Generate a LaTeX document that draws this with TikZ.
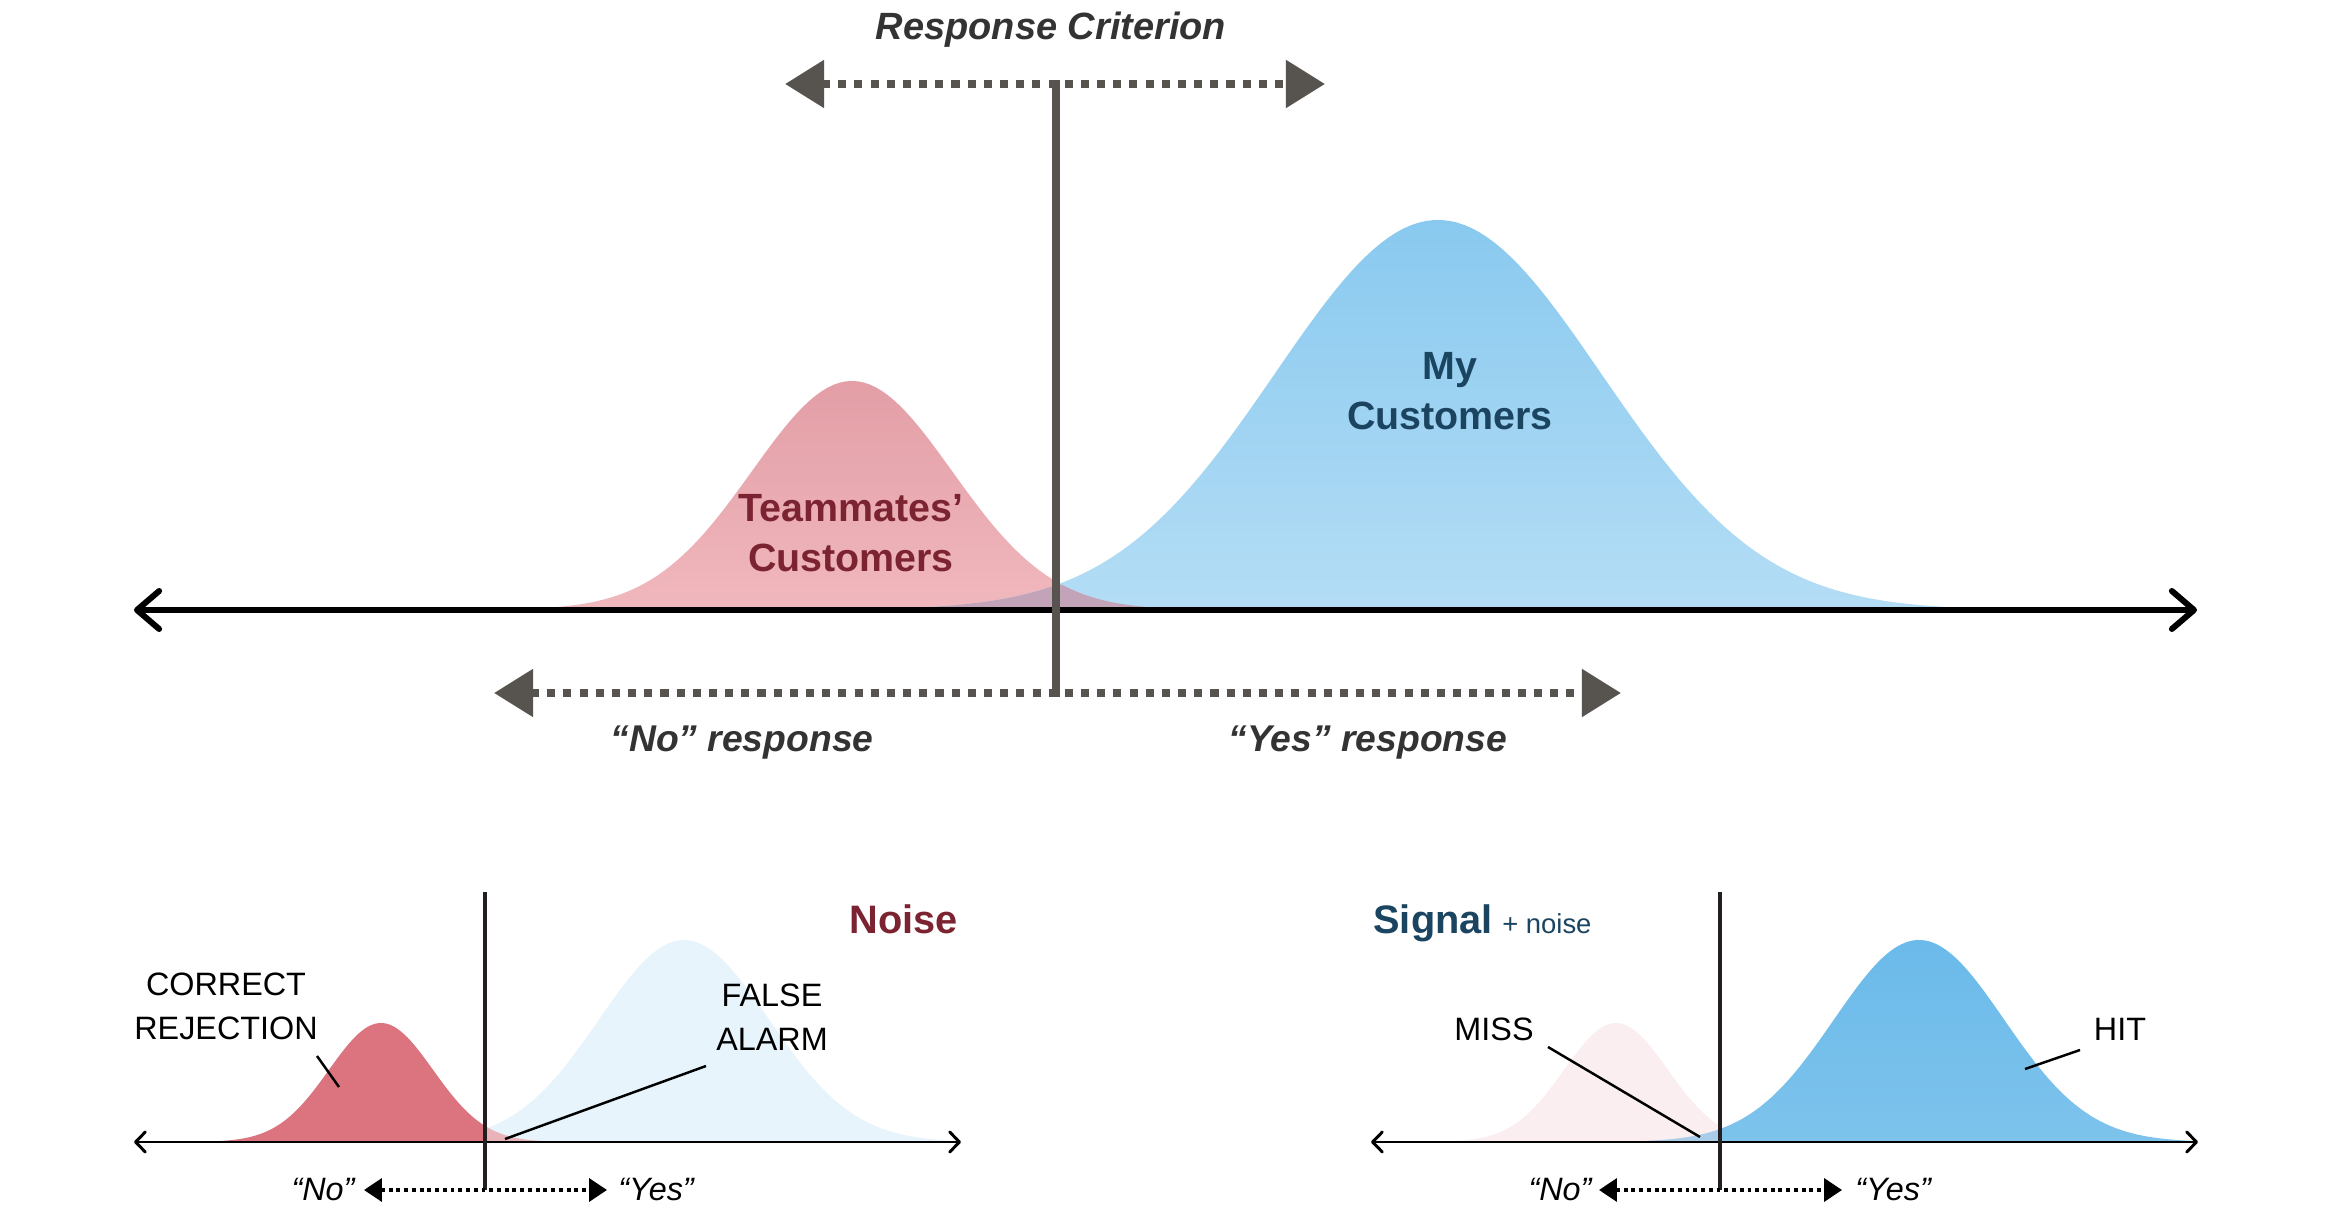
\documentclass[tikz,border=0pt]{standalone}
\usepackage{fontspec}
\setmainfont{Liberation Sans}
\usetikzlibrary{arrows.meta,positioning}

\definecolor{critgray}{HTML}{57534E}
\definecolor{textgray}{HTML}{333333}
\definecolor{noisered}{HTML}{7B2331}
\definecolor{signalblue}{HTML}{1B4460}
\definecolor{pinktop}{HTML}{E39EA6}
\definecolor{pinkbot}{HTML}{F0B8BD}
\definecolor{bluetop}{HTML}{89C9EF}
\definecolor{bluebot}{HTML}{B4DDF5}
\definecolor{mixfill}{HTML}{C3A3B7}
\definecolor{noisefill}{HTML}{DC7480}
\definecolor{noiselight}{HTML}{E9B3BA}
\definecolor{paleblue}{HTML}{E8F4FC}
\definecolor{palepink}{HTML}{FBEEF0}
\definecolor{signaltop}{HTML}{6BBAEA}
\definecolor{signalbot}{HTML}{7DC3EC}
\definecolor{signallight}{HTML}{A9CCE8}
\definecolor{inkline}{HTML}{231F20}

\tikzset{
  bigaxis/.style={line width=1.7pt, {Straight Barb[length=6.3pt,width=10.8pt,round]}-{Straight Barb[length=6.3pt,width=10.8pt,round]}},
  smallaxis/.style={line width=0.85pt, {Straight Barb[length=2.8pt,width=5.7pt,round]}-{Straight Barb[length=2.8pt,width=5.7pt,round]}},
  bigcrit/.style={critgray, line width=2.3pt},
  smallcrit/.style={inkline, line width=1.1pt},
  bigdots/.style={critgray, line width=2.3pt, dash pattern=on 2.3pt off 2.3pt,
    {Triangle[length=11.1pt,width=13.1pt]}-{Triangle[length=11.1pt,width=13.1pt]}},
  smalldots/.style={black, line width=1.1pt, dash pattern=on 1.1pt off 1.1pt,
    {Triangle[length=5.1pt,width=6.5pt]}-{Triangle[length=5.1pt,width=6.5pt]}},
  leader/.style={black, line width=0.7pt},
  crittext/.style={textgray, anchor=base, font=\fontsize{10.8pt}{13pt}\selectfont\bfseries\itshape},
  resptext/.style={textgray, anchor=base, font=\fontsize{10.6pt}{13pt}\selectfont\bfseries\itshape},
  curvetext/.style={align=center, font=\fontsize{11.2pt}{14.2pt}\selectfont\bfseries},
  paneltitle/.style={anchor=base, font=\fontsize{11.3pt}{13pt}\selectfont\bfseries},
  outcome/.style={align=center, font=\fontsize{9.2pt}{12.5pt}\selectfont},
  answer/.style={anchor=base, font=\fontsize{9.2pt}{11pt}\selectfont\itshape},
}

\begin{document}
\begin{tikzpicture}[x=0.01cm, y=0.01cm,
  declare function={
    bigN(\x)=229*exp(-0.5*((\x-852)/100)^2);
    bigS(\x)=390*exp(-0.5*((\x-1438)/163)^2);
    smN(\x)=119*exp(-0.5*((\x+104)/52)^2);
    smS(\x)=202*exp(-0.5*((\x-199)/85)^2);
  }]
\useasboundingbox (0,0) rectangle (2328,1212);

% top panel: both distributions
\shade[top color=pinktop, bottom color=pinkbot] (500,602) -- plot[domain=500:1222, samples=120] (\x,{602+bigN(\x)}) -- (1222,602) -- cycle;
\shade[top color=bluetop, bottom color=bluebot] (860,602) -- plot[domain=860:2000, samples=150] (\x,{602+bigS(\x)}) -- (2000,602) -- cycle;
\fill[mixfill] plot[domain=860:1222, samples=80] (\x,{602+min(bigN(\x),bigS(\x))}) -- cycle;

\coordinate (axL) at (134,602);
\coordinate (axR) at (2197,602);
\draw[bigaxis] (axL) -- (axR);

\coordinate (critT) at (1056,1132);
\coordinate (critB) at (1056,515);
\draw[bigcrit] (critT) -- (critB);

\coordinate (topL) at (785,1128);
\coordinate (topR) at (1325,1128);
\draw[bigdots] (topL) -- (topR);
\coordinate (lowL) at (494,519);
\coordinate (lowR) at (1621,519);
\draw[bigdots] (lowL) -- (lowR);

\node[crittext] (crit) at (1051,1172) {Response Criterion};
\node[curvetext, noisered] (team) at (851,679) {Teammates’\\Customers};
\node[curvetext, signalblue] (mine) at (1450,821) {My\\Customers};
\node[resptext] (noresp) at (742,460) {“No” response};
\node[resptext] (yesresp) at (1368,460) {“Yes” response};

% bottom left: noise
\begin{scope}[shift={(485,70)}]
\fill[paleblue] (-110,0) -- plot[domain=-110:470, samples=120] (\x,{smS(\x)}) -- (470,0) -- cycle;
\fill[noisefill] plot[domain=-290:0, samples=80] (\x,{smN(\x)}) -- (0,0) -- cycle;
\fill[noiselight] (0,0) -- plot[domain=0:90, samples=30] (\x,{smN(\x)}) -- (90,0) -- cycle;
\coordinate (nL) at (-351,0);
\coordinate (nR) at (476,0);
\draw[smallaxis] (nL) -- (nR);
\coordinate (nT) at (0,250);
\coordinate (nB) at (0,-48);
\draw[smallcrit] (nT) -- (nB);
\coordinate (nNo) at (-121,-48);
\coordinate (nYes) at (122,-48);
\draw[smalldots] (nNo) -- (nYes);
\end{scope}

\node[paneltitle, noisered, anchor=base east] (noise) at (970,279) {Noise};
\node[outcome] (cr) at (226,206) {CORRECT\\REJECTION};
\node[outcome] (fa) at (772,195) {FALSE\\ALARM};
\coordinate (crA) at (317,156);
\coordinate (crB) at (339,125);
\draw[leader] (crA) -- (crB);
\coordinate (faA) at (706,146);
\coordinate (faB) at (505,73);
\draw[leader] (faA) -- (faB);
\node[answer] (nno) at (323,12) {“No”};
\node[answer] (nyes) at (656,12) {“Yes”};

% bottom right: signal + noise
\begin{scope}[shift={(1720,70)}]
\fill[palepink] (-290,0) -- plot[domain=-290:90, samples=80] (\x,{smN(\x)}) -- (90,0) -- cycle;
\fill[signallight] (-110,0) -- plot[domain=-110:0, samples=40] (\x,{smS(\x)}) -- (0,0) -- cycle;
\shade[top color=signaltop, bottom color=signalbot] (0,0) -- plot[domain=0:470, samples=120] (\x,{smS(\x)}) -- (470,0) -- cycle;
\coordinate (sL) at (-349,0);
\coordinate (sR) at (478,0);
\draw[smallaxis] (sL) -- (sR);
\coordinate (sT) at (0,250);
\coordinate (sB) at (0,-48);
\draw[smallcrit] (sT) -- (sB);
\coordinate (sNo) at (-121,-48);
\coordinate (sYes) at (122,-48);
\draw[smalldots] (sNo) -- (sYes);
\end{scope}

\node[paneltitle, signalblue, anchor=base west] (signal) at (1361,279) {Signal};
\node[anchor=base west, signalblue, font=\fontsize{7.8pt}{9pt}\selectfont, inner xsep=0pt, xshift=-1pt] (plusnoise) at (signal.base east) {+ noise};
\node[outcome] (miss) at (1494,183) {MISS};
\node[outcome] (hit) at (2120,183) {HIT};
\coordinate (missA) at (1548,165);
\coordinate (missB) at (1700,75);
\draw[leader] (missA) -- (missB);
\coordinate (hitA) at (2080,162);
\coordinate (hitB) at (2025,143);
\draw[leader] (hitA) -- (hitB);
\node[answer] (sno) at (1560,12) {“No”};
\node[answer] (syes) at (1893,12) {“Yes”};
\end{tikzpicture}
\end{document}
